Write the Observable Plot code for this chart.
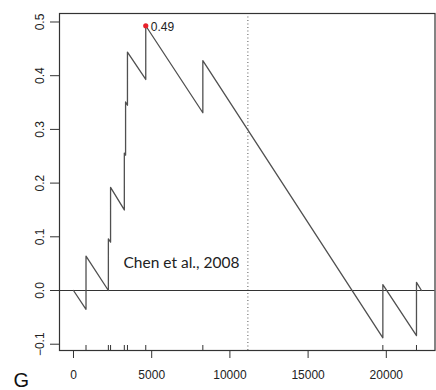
<!DOCTYPE html>
<html>
<head>
<meta charset="utf-8">
<script src="https://cdn.jsdelivr.net/npm/d3@7"></script>
<script src="https://cdn.jsdelivr.net/npm/@observablehq/plot@0.6"></script>
<style>
  html, body { margin: 0; padding: 0; background: #fff; }
  #chart svg { display: block; }
</style>
</head>
<body>
<div id="chart"></div>
<script>
// Running enrichment score (vertices)
const rankPos = [0, 800, 800, 2230, 2230, 2370, 2370, 3250, 3250, 3330, 3330, 3450, 3450, 4620, 4620, 8270, 8270, 19780, 19780, 21930, 21930, 22250];
const esValue = [0, -0.035, 0.064, 0.0, 0.096, 0.090, 0.192, 0.150, 0.256, 0.252, 0.351, 0.345, 0.444, 0.393, 0.493, 0.331, 0.428, -0.088, 0.011, -0.084, 0.015, 0.0];
// Hit ranks (rug)
const hitRanks = [800, 2230, 2370, 3250, 3450, 4620, 8270, 19780, 21930];
// Peak
const peakRank = [4620];
const peakValue = [0.493];
const peakLabel = ["0.49"];
// Midpoint of ranked list (dotted line)
const midRank = [11150];
// Axis ticks
const xTicks = [0, 5000, 10000, 15000, 20000];
const xTickLabels = ["0", "5000", "10000", "15000", "20000"];
const yTicks = [-0.1, 0, 0.1, 0.2, 0.3, 0.4, 0.5];
const yTickLabels = ["\u22120.1", "0.0", "0.1", "0.2", "0.3", "0.4", "0.5"];
const annotation = ["Chen et al., 2008"];
const panelLabel = ["G"];

const series = rankPos.map((r, i) => ({rank: r, es: esValue[i]}));
const peak = peakRank.map((r, i) => ({rank: r, es: peakValue[i], label: peakLabel[i]}));

const chart = Plot.plot({
  width: 436,
  height: 390,
  marginLeft: 59,
  marginRight: 1.5,
  marginTop: 13,
  marginBottom: 40,
  style: {fontFamily: "'Liberation Sans', Arial, sans-serif", fontSize: "12px", color: "#222", background: "#fff"},
  x: {domain: [-895, 23114], axis: null},
  y: {domain: [-0.1117, 0.5158], axis: null},
  marks: [
    Plot.ruleX(midRank, {x: d => d, stroke: "#555", strokeWidth: 1, strokeDasharray: "1,2.5"}),
    Plot.ruleY([0], {stroke: "#333", strokeWidth: 1.2}),
    Plot.ruleX(hitRanks, {x: d => d, insetTop: 332, stroke: "#333", strokeWidth: 1}),
    Plot.line(series, {x: "rank", y: "es", stroke: "#505050", strokeWidth: 1.3}),
    Plot.dot(peak, {x: "rank", y: "es", r: 2.6, fill: "#e8202a", stroke: "none"}),
    Plot.text(peak, {x: "rank", y: "es", text: "label", dx: 5, dy: 1, textAnchor: "start", lineAnchor: "middle", fontSize: 12, fill: "#222"}),
    Plot.text(annotation, {frameAnchor: "top-left", text: d => d, dx: 64, dy: 254, textAnchor: "start", lineAnchor: "bottom", fontFamily: "Lato, 'Open Sans', sans-serif", fontSize: 15.5, fill: "#222"}),
    Plot.text(panelLabel, {frameAnchor: "bottom-left", text: d => d, dx: -46, dy: 36, textAnchor: "start", lineAnchor: "bottom", fontSize: 20, fill: "#111"}),
    Plot.axisX(xTicks, {anchor: "bottom", label: null, tickSize: 8, tickPadding: 12, tickFormat: (d) => xTickLabels[xTicks.indexOf(d)], stroke: "#333", fill: "#222"}),
    Plot.axisY(yTicks, {anchor: "left", label: null, tickSize: 9, tickPadding: 7, tickRotate: -90, tickFormat: (d) => yTickLabels[yTicks.indexOf(d)], stroke: "#333", fill: "#222"}),
    Plot.frame({stroke: "#333", strokeWidth: 1.2})
  ]
});
document.getElementById("chart").appendChild(chart);
</script>
</body>
</html>
